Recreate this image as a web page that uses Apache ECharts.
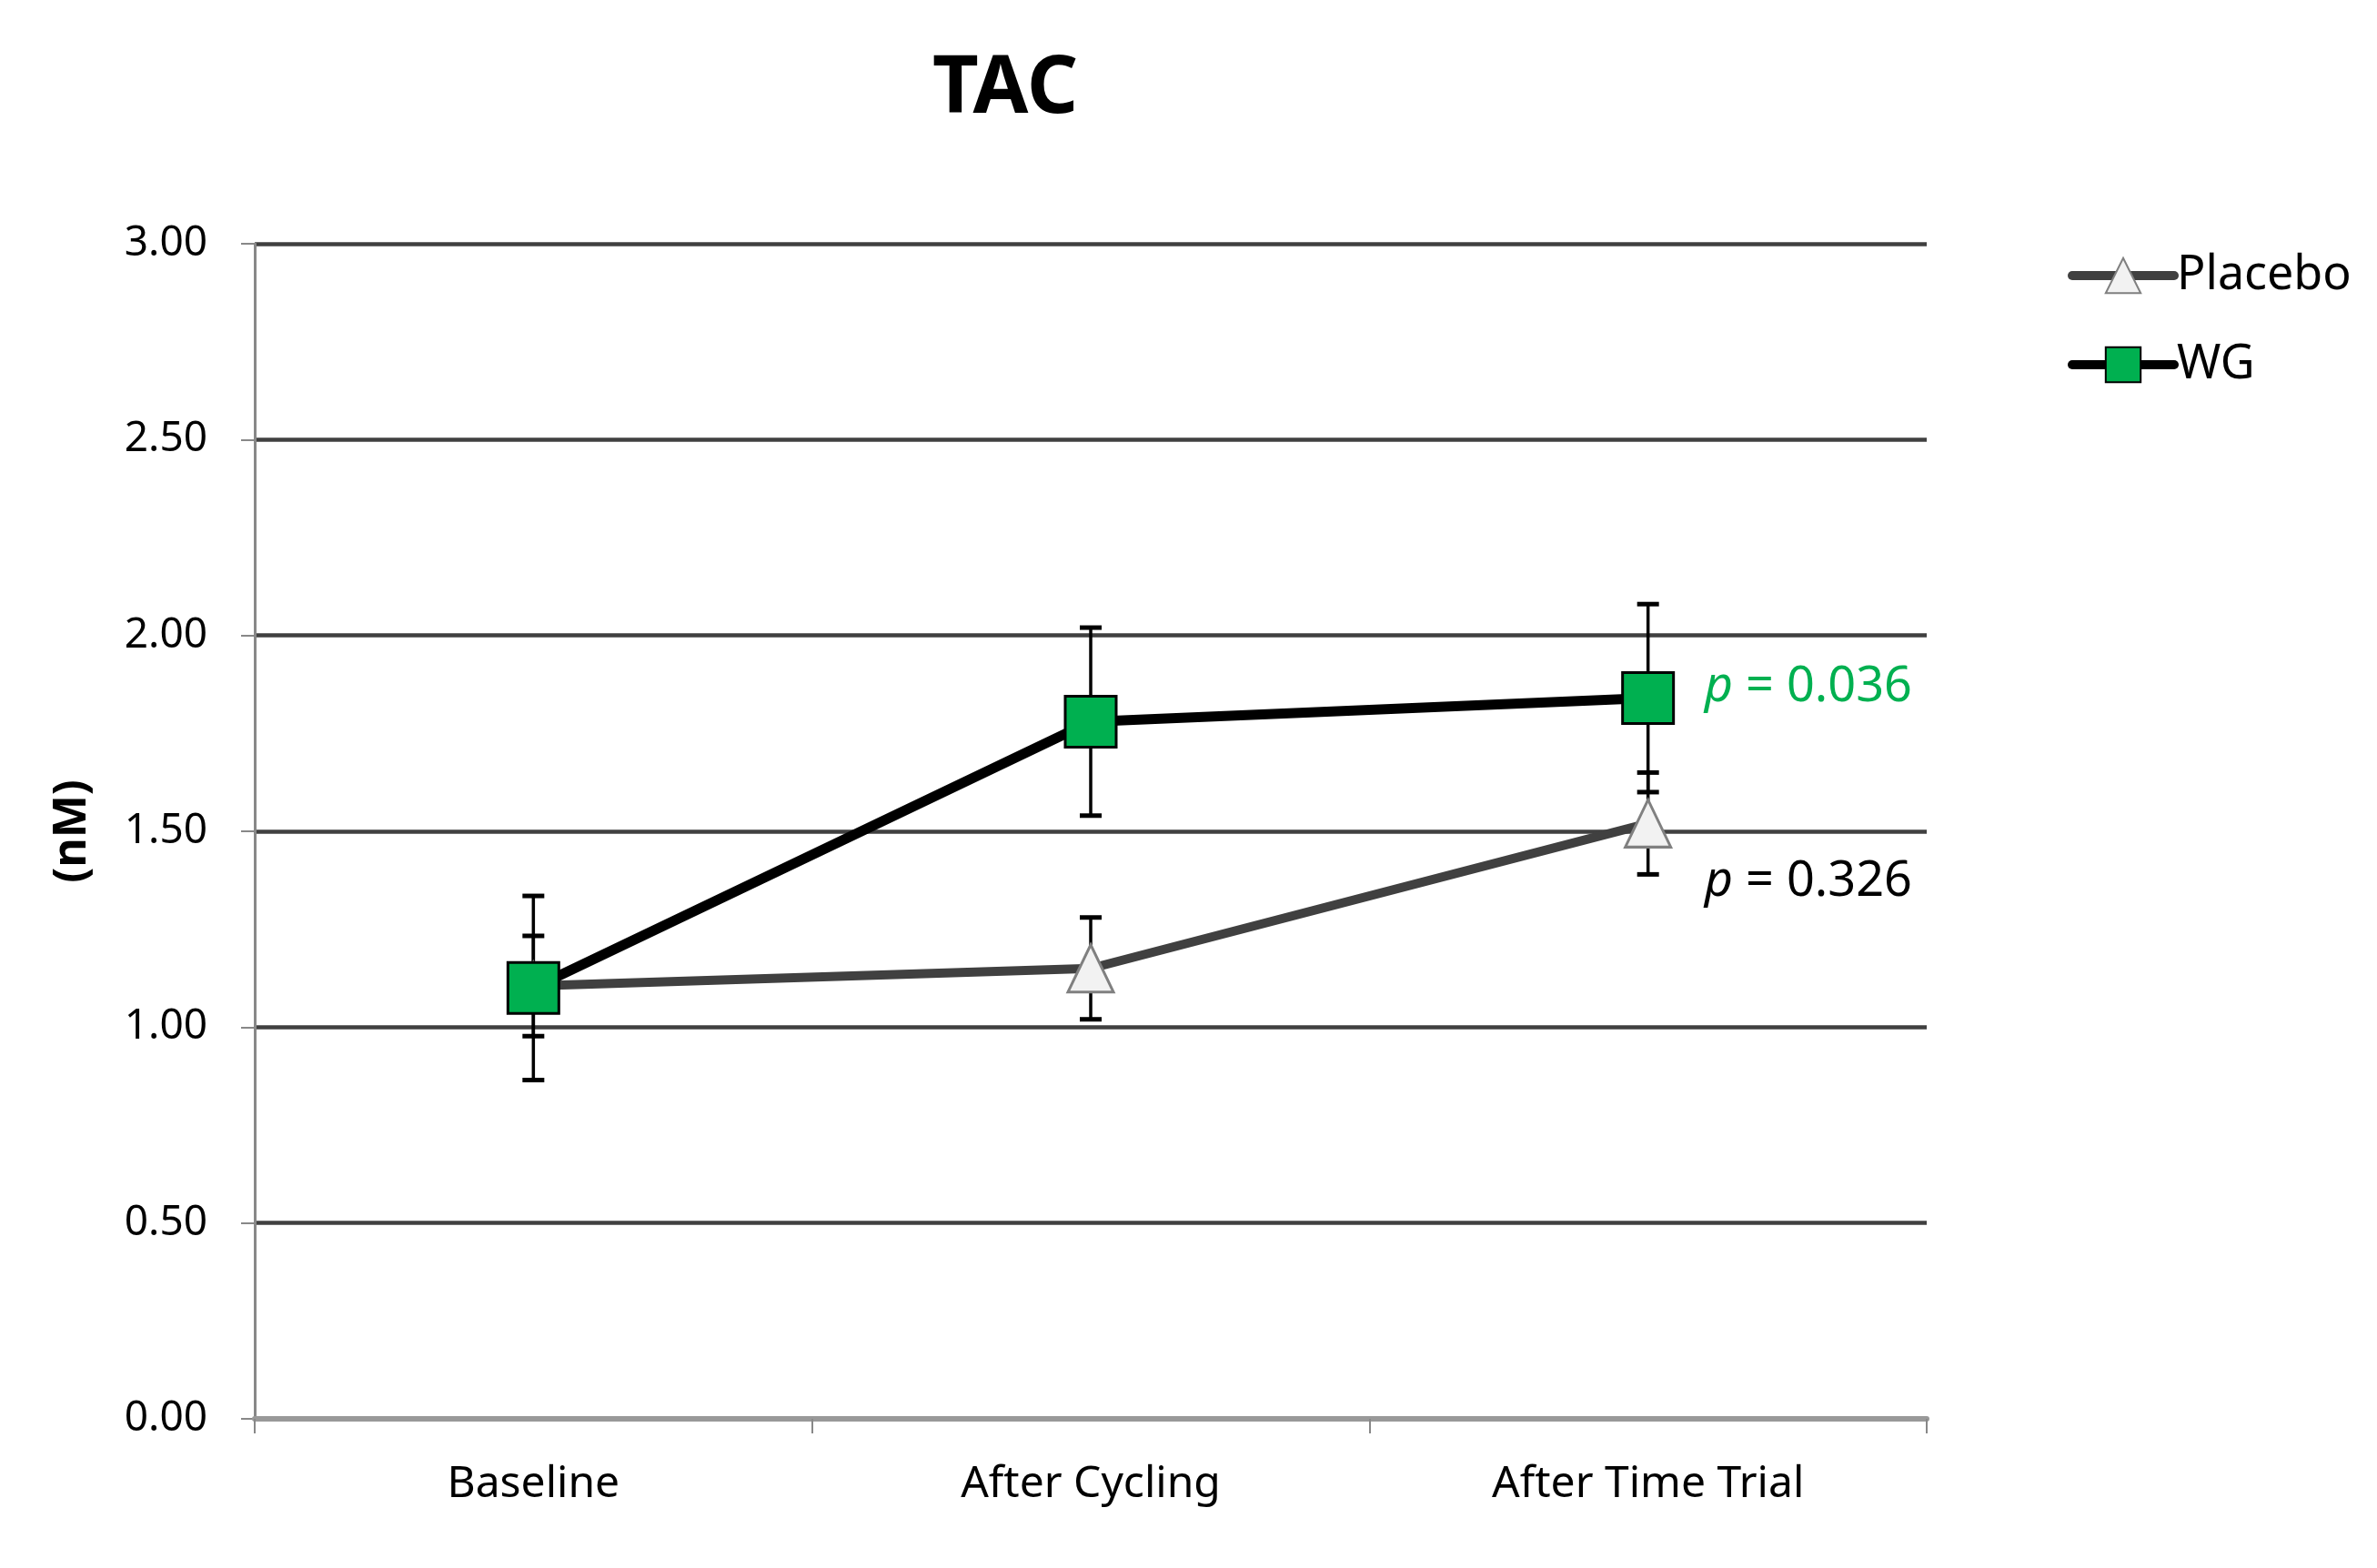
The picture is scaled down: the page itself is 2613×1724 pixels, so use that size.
<!DOCTYPE html>
<html>
<head>
<meta charset="utf-8">
<script src="https://cdn.jsdelivr.net/npm/echarts@6/dist/echarts.min.js"></script>
<style>
html,body{margin:0;padding:0;background:#fff;}
#chart{width:2613px;height:1724px;}
</style>
</head>
<body>
<div id="chart"></div>
<script>
const categories = ['Baseline', 'After Cycling', 'After Time Trial'];
const yTicks = [0, 0.5, 1.0, 1.5, 2.0, 2.5, 3.0];
const placeboMean = [1.105, 1.15, 1.52];
const placeboErr = [0.128, 0.13, 0.13];
const wgMean = [1.10, 1.78, 1.84];
const wgErr = [0.235, 0.24, 0.24];
const pLabels = ['0.036', '0.326'];
const pLabelAnchors = [1.86, 1.365];

const FONT = 'Noto Sans';

function errData(mean, err) {
  return mean.map((m, i) => [i, m - err[i], m + err[i]]);
}

function errRender(params, api) {
  const x = api.value(0);
  const lo = api.coord([x, api.value(1)]);
  const hi = api.coord([x, api.value(2)]);
  const w = 12;
  return {
    type: 'group',
    children: [
      {type: 'line', shape: {x1: lo[0], y1: lo[1], x2: hi[0], y2: hi[1]}, style: {stroke: '#000', lineWidth: 3.5}},
      {type: 'line', shape: {x1: lo[0] - w, y1: lo[1], x2: lo[0] + w, y2: lo[1]}, style: {stroke: '#000', lineWidth: 5}},
      {type: 'line', shape: {x1: hi[0] - w, y1: hi[1], x2: hi[0] + w, y2: hi[1]}, style: {stroke: '#000', lineWidth: 5}}
    ]
  };
}

const chart = echarts.init(document.getElementById('chart'));
const option = {
  animation: false,
  backgroundColor: '#fff',
  title: {
    text: 'TAC',
    left: 1100,
    top: 50,
    textAlign: 'center',
    textStyle: {fontFamily: FONT, fontWeight: 'bold', fontSize: 88, color: '#000'}
  },
  legend: {
    data: ['Placebo', 'WG'],
    orient: 'vertical',
    left: 2268,
    top: 272,
    itemWidth: 112,
    itemHeight: 48,
    itemGap: 46,
    lineStyle: {width: 10, cap: 'round'},
    textStyle: {fontFamily: FONT, fontSize: 52, color: '#000', padding: [0, 0, 0, -2]}
  },
  grid: {left: 280, right: 495, top: 268, bottom: 164, containLabel: false},
  xAxis: {
    type: 'category',
    data: categories,
    boundaryGap: true,
    axisLine: {show: true, lineStyle: {color: '#999', width: 6}},
    axisTick: {show: true, length: 16, interval: 0, lineStyle: {color: '#888', width: 2}},
    axisLabel: {fontFamily: FONT, fontSize: 48, color: '#000', margin: 48, interval: 0},
    splitLine: {show: false},
    z: 3
  },
  yAxis: {
    type: 'value',
    min: yTicks[0],
    max: yTicks[yTicks.length - 1],
    interval: 0.5,
    name: '(nM)',
    nameLocation: 'middle',
    nameGap: 175,
    nameTextStyle: {fontFamily: FONT, fontWeight: 'bold', fontSize: 50, color: '#000'},
    axisLine: {show: true, lineStyle: {color: '#888', width: 3}},
    axisTick: {show: true, length: 15, lineStyle: {color: '#888', width: 2}},
    axisLabel: {fontFamily: FONT, fontSize: 46, color: '#000', margin: 52,
      formatter: v => v.toFixed(2)},
    splitLine: {show: true, lineStyle: {color: '#404040', width: 4.5}}
  },
  series: [
    {
      name: 'PlaceboErr', type: 'custom', renderItem: errRender,
      data: errData(placeboMean, placeboErr), encode: {x: 0, y: [1, 2]}, z: 1, silent: true
    },
    {
      name: 'WGErr', type: 'custom', renderItem: errRender,
      data: errData(wgMean, wgErr), encode: {x: 0, y: [1, 2]}, z: 1, silent: true
    },
    {
      name: 'Placebo', type: 'line', data: placeboMean,
      symbol: 'triangle', symbolSize: [50, 52],
      lineStyle: {color: '#404040', width: 10, cap: 'round'},
      itemStyle: {color: '#F2F2F2', borderColor: '#808080', borderWidth: 3},
      z: 2
    },
    {
      name: 'WG', type: 'line', data: wgMean,
      symbol: 'rect', symbolSize: 56,
      lineStyle: {color: '#000', width: 11, cap: 'round'},
      itemStyle: {color: '#00B050', borderColor: '#000', borderWidth: 3},
      z: 4
    }
  ]
};
chart.setOption(option);

const colors = ['#00B050', '#000'];
const graphics = pLabels.map((t, i) => {
  const pt = chart.convertToPixel({gridIndex: 0}, [2, pLabelAnchors[i]]);
  return {
    type: 'text',
    left: pt[0] + 62,
    top: pt[1] - 30,
    style: {
      text: '{i|p} = ' + t,
      fill: colors[i],
      font: '54px "Noto Sans"',
      rich: {i: {fontStyle: 'italic', fontFamily: FONT, fontSize: 54, fill: colors[i]}}
    },
    z: 10
  };
});
chart.setOption({graphic: graphics});
</script>
</body>
</html>
